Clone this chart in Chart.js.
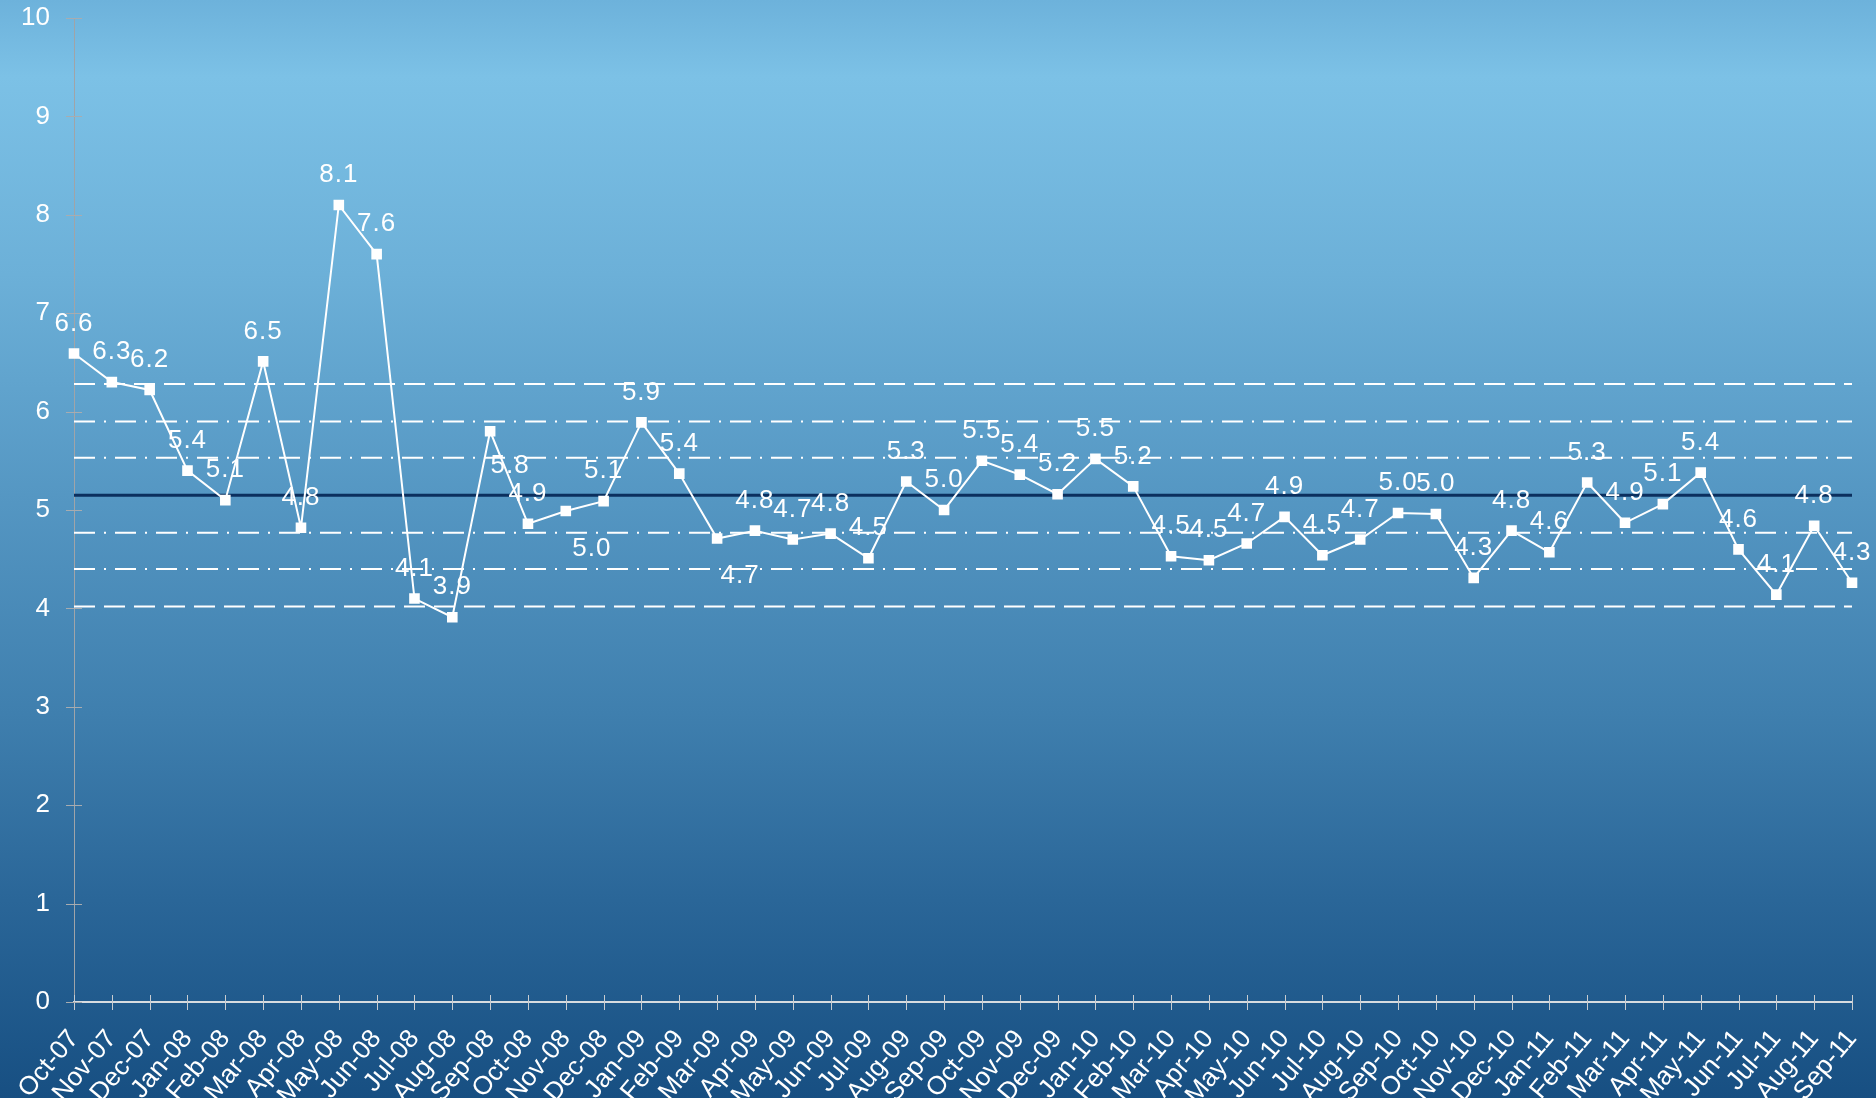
<!DOCTYPE html>
<html>
<head>
<meta charset="utf-8">
<title>Monthly control chart</title>
<script src="https://cdn.jsdelivr.net/npm/chart.js@4.4.0/dist/chart.umd.min.js"></script>
<style>
    html, body { margin: 0; padding: 0; }
    body {
        width: 1876px;
        height: 1098px;
        overflow: hidden;
        background: linear-gradient(to bottom, #6db2db 0%, #7cc1e6 7%, #6cb0d8 25%, #5597c3 45%, #3f7fae 65%, #2a6698 82%, #174f82 100%);
    }
    #wrap { position: relative; width: 1876px; height: 1098px; }
</style>
</head>
<body>
<div id="wrap"><canvas id="controlChart"></canvas></div>
<script>
const months = [
    'Oct-07', 'Nov-07', 'Dec-07', 'Jan-08', 'Feb-08', 'Mar-08', 'Apr-08', 'May-08', 'Jun-08', 'Jul-08', 'Aug-08', 'Sep-08',
    'Oct-08', 'Nov-08', 'Dec-08', 'Jan-09', 'Feb-09', 'Mar-09', 'Apr-09', 'May-09', 'Jun-09', 'Jul-09', 'Aug-09', 'Sep-09',
    'Oct-09', 'Nov-09', 'Dec-09', 'Jan-10', 'Feb-10', 'Mar-10', 'Apr-10', 'May-10', 'Jun-10', 'Jul-10', 'Aug-10', 'Sep-10',
    'Oct-10', 'Nov-10', 'Dec-10', 'Jan-11', 'Feb-11', 'Mar-11', 'Apr-11', 'May-11', 'Jun-11', 'Jul-11', 'Aug-11', 'Sep-11'
];

const monthlyValues = [
    6.59, 6.30, 6.22, 5.40, 5.10, 6.51, 4.82, 8.10, 7.60, 4.10, 3.91, 5.80,
    4.86, 4.99, 5.09, 5.89, 5.37, 4.71, 4.79, 4.70, 4.76, 4.51, 5.29, 5.00,
    5.50, 5.36, 5.16, 5.52, 5.24, 4.53, 4.49, 4.66, 4.93, 4.54, 4.70, 4.97,
    4.96, 4.31, 4.79, 4.57, 5.28, 4.87, 5.06, 5.38, 4.60, 4.14, 4.84, 4.26
];

// centre line and the +/-1, 2, 3 sigma bands
const meanLevel = 5.15;
const upperLimits = [6.28, 5.90, 5.53];
const lowerLimits = [4.77, 4.40, 4.02];

const yMin = 0;
const yMax = 10;
const yStep = 1;

// a few value labels sit below-right of their point instead of above
const labelNudge = { 11: [20, 35], 13: [26, 38], 17: [23, 37] };

const FONT = "'Liberation Sans', Arial, sans-serif";

function levelLine(level, dash, color, width) {
    return {
        data: months.map(() => level),
        borderColor: color,
        borderWidth: width,
        borderDash: dash,
        pointRadius: 0,
        pointHoverRadius: 0,
        fill: false,
        tension: 0
    };
}

const dashed = [21, 9];
const dashDot = [21, 9, 2, 9];

const limitSets = [
    levelLine(upperLimits[0], dashed, '#ffffff', 2),
    levelLine(upperLimits[1], dashDot, '#ffffff', 2),
    levelLine(upperLimits[2], dashDot, '#ffffff', 2),
    levelLine(lowerLimits[0], dashDot, '#ffffff', 2),
    levelLine(lowerLimits[1], dashDot, '#ffffff', 2),
    levelLine(lowerLimits[2], dashed, '#ffffff', 2)
];

// crossing tick marks on both axes, like the spreadsheet original
const axisTicks = {
    id: 'axisTicks',
    afterDraw(chart) {
        const { ctx, chartArea, scales } = chart;
        ctx.save();
        ctx.lineWidth = 1;
        ctx.strokeStyle = '#c8ccd0';
        scales.x.ticks.forEach((t, i) => {
            const x = Math.round(scales.x.getPixelForTick(i)) + 0.5;
            ctx.beginPath();
            ctx.moveTo(x, chartArea.bottom - 7);
            ctx.lineTo(x, chartArea.bottom + 8);
            ctx.stroke();
        });
        ctx.strokeStyle = '#a8acb0';
        scales.y.ticks.forEach((t, i) => {
            const y = Math.round(scales.y.getPixelForTick(i)) + 0.5;
            ctx.beginPath();
            ctx.moveTo(chartArea.left - 8, y);
            ctx.lineTo(chartArea.left + 8, y);
            ctx.stroke();
        });
        ctx.restore();
    }
};

// value labels for the monthly series
const valueLabels = {
    id: 'valueLabels',
    afterDatasetsDraw(chart) {
        const { ctx } = chart;
        const meta = chart.getDatasetMeta(0);
        ctx.save();
        ctx.fillStyle = '#ffffff';
        ctx.font = '26px ' + FONT;
        ctx.letterSpacing = '1px';
        ctx.textAlign = 'center';
        ctx.textBaseline = 'middle';
        meta.data.forEach((pt, i) => {
            const [dx, dy] = labelNudge[i] || [0, -30];
            ctx.fillText(monthlyValues[i].toFixed(1), pt.x + dx, pt.y + dy);
        });
        ctx.restore();
    }
};

const canvas = document.getElementById('controlChart');

new Chart(canvas, {
    type: 'line',
    data: {
        labels: months,
        datasets: [
            {
                data: monthlyValues,
                borderColor: '#ffffff',
                borderWidth: 2,
                pointStyle: 'rect',
                pointRadius: 7.5,
                pointBackgroundColor: '#ffffff',
                pointBorderColor: '#ffffff',
                pointBorderWidth: 0,
                fill: false,
                tension: 0
            },
            levelLine(meanLevel, [], '#0b2f5e', 3),
            ...limitSets
        ]
    },
    options: {
        responsive: true,
        maintainAspectRatio: false,
        animation: false,
        layout: { padding: { top: 18, right: 24, left: 0, bottom: 0 } },
        plugins: {
            legend: { display: false },
            tooltip: { enabled: false }
        },
        scales: {
            x: {
                offset: false,
                grid: { display: false },
                border: { display: true, color: '#d8dce0', width: 2 },
                ticks: {
                    color: '#ffffff',
                    font: { family: FONT, size: 26 },
                    minRotation: 50,
                    maxRotation: 50,
                    autoSkip: false,
                    padding: 14
                },
                afterFit(scale) {
                    scale.height = 96;
                    scale.paddingLeft = 0;
                    scale.paddingRight = 0;
                }
            },
            y: {
                min: yMin,
                max: yMax,
                grid: { display: false },
                border: { display: true, color: '#a0a4a8', width: 1 },
                ticks: {
                    stepSize: yStep,
                    color: '#ffffff',
                    font: { family: FONT, size: 26 },
                    padding: 16
                },
                afterFit(scale) {
                    scale.width = 74;
                    scale.paddingTop = 0;
                    scale.paddingBottom = 0;
                }
            }
        }
    },
    plugins: [axisTicks, valueLabels]
});
</script>
</body>
</html>
